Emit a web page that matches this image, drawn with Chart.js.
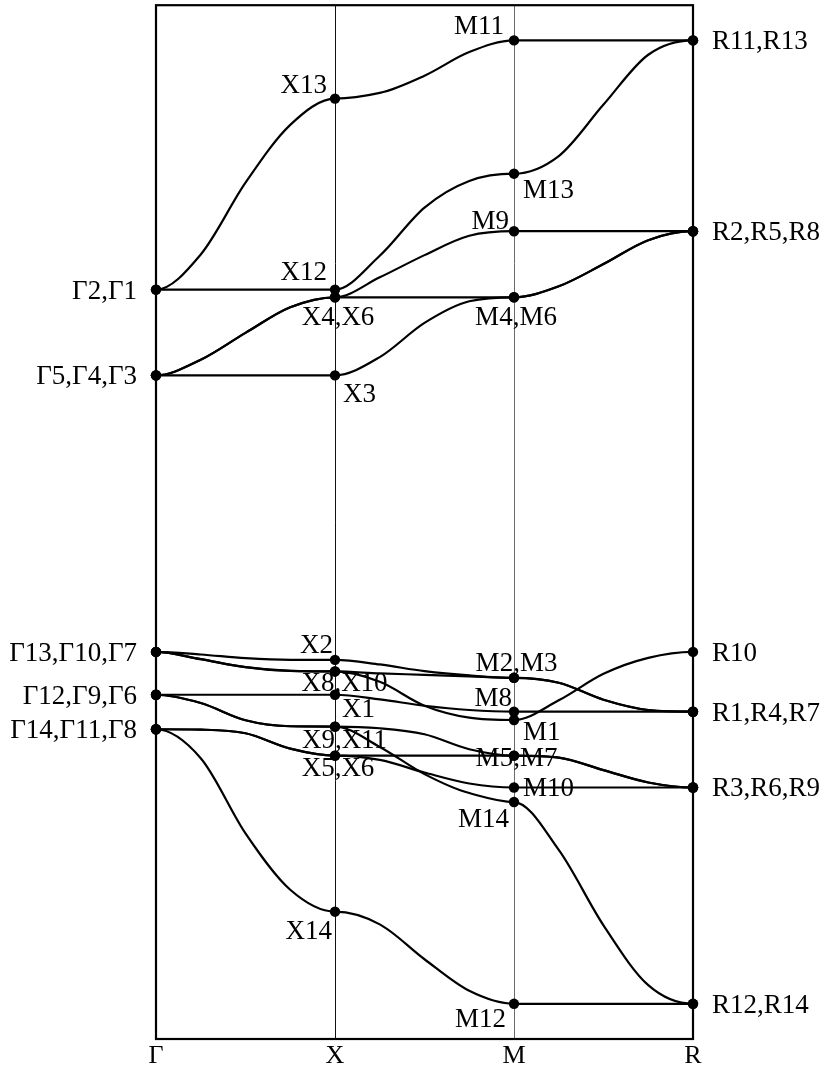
<!DOCTYPE html>
<html>
<head>
<meta charset="utf-8">
<title>Phonon dispersion Γ–X–M–R</title>
<script src="https://cdn.jsdelivr.net/npm/chart.js@4/dist/chart.umd.min.js"></script>
<style>
  html, body { margin: 0; padding: 0; background: #fff; }
  canvas { display: block; }
</style>
</head>
<body>
<canvas id="bands" width="831" height="1071"></canvas>
<script>
// High-symmetry path and the positions along it where energies were sampled
const kPath = ['Γ', 'X', 'M', 'R'];
const kSamples = [0, 0.25, 0.5, 0.75, 1, 1.25, 1.5, 1.75, 2, 2.25, 2.5, 2.75, 3];

// Band energies (arbitrary units) at each sample position
const band1  = [751.7, 787, 859, 917, 943.3, 949, 966.3, 990, 1001.7, 1001.7, 1001.7, 1001.7, 1001.7];
const band2  = [751.7, 751.7, 751.7, 751.7, 751.7, 785.7, 834, 860.7, 868, 885.7, 937.3, 987.3, 1001.7];
const band3  = [665.7, 681.3, 708.3, 734, 744, 764, 786.3, 805.7, 810.3, 810.3, 810.3, 810.3, 810.3];
const band4  = [665.7, 681.3, 708.3, 734, 744, 744, 744, 744, 744, 755, 777.3, 801.3, 810.3];
const band5  = [665.7, 665.7, 665.7, 665.7, 665.7, 684, 718.3, 740, 744, 755, 777.3, 801.3, 810.3];
const band6  = [388.3, 385.7, 382, 380.3, 380.3, 375.7, 369, 364.7, 362.3, 357.3, 340.3, 330, 328.3];
const band7  = [388.3, 381, 373, 369.3, 368.7, 366.7, 365.3, 363.7, 362.3, 357.3, 340.3, 330, 328.3];
const band8  = [388.3, 381, 373, 369.3, 368.7, 358.3, 334.3, 322.3, 320, 339.7, 366.3, 382.3, 388.3];
const band9  = [345.3, 345.3, 345.3, 345.3, 345.3, 340.7, 334.3, 330, 328.3, 328.3, 328.3, 328.3, 328.3];
const band10 = [345.3, 337, 319.7, 313.7, 313.3, 311.7, 305.7, 290.7, 284.3, 282.3, 269.7, 257.3, 252.3];
const band11 = [345.3, 337, 319.7, 313.7, 313.3, 293, 265.7, 246.7, 237.7, 189.7, 114, 54, 35.3];
const band12 = [310.7, 310.3, 306.7, 291.3, 284.3, 284.3, 284.3, 284.3, 284.3, 282.3, 269.7, 257.3, 252.3];
const band13 = [310.7, 310.3, 306.7, 291.3, 284.3, 280, 267.3, 256.3, 252.3, 252.3, 252.3, 252.3, 252.3];
const band14 = [310.7, 281.7, 206.3, 149.7, 127.7, 115, 80, 48.3, 35.3, 35.3, 35.3, 35.3, 35.3];

const bands = [band1, band2, band3, band4, band5, band6, band7,
               band8, band9, band10, band11, band12, band13, band14];

// Irreducible-representation labels: [text, band number, sample index]
const pointLabels = [
  ['Γ2,Γ1', 1, 0], ['Γ5,Γ4,Γ3', 3, 0], ['Γ13,Γ10,Γ7', 6, 0],
  ['Γ12,Γ9,Γ6', 9, 0], ['Γ14,Γ11,Γ8', 12, 0],
  ['X13', 1, 4], ['X12', 2, 4], ['X4,X6', 3, 4], ['X3', 5, 4],
  ['X2', 6, 4], ['X8,X10', 7, 4], ['X1', 9, 4], ['X9,X11', 10, 4],
  ['X5,X6', 12, 4], ['X14', 14, 4],
  ['M11', 1, 8], ['M13', 2, 8], ['M9', 3, 8], ['M4,M6', 4, 8],
  ['M2,M3', 6, 8], ['M8', 9, 8], ['M1', 8, 8], ['M5,M7', 10, 8],
  ['M10', 13, 8], ['M14', 11, 8], ['M12', 14, 8],
  ['R11,R13', 1, 12], ['R2,R5,R8', 3, 12], ['R10', 8, 12],
  ['R1,R4,R7', 6, 12], ['R3,R6,R9', 10, 12], ['R12,R14', 11, 12]
];

// Where each label sits relative to its point: [align, dx, dy] in pixels
const labelPlacement = {
  'X13': ['right', -8, -15], 'X12': ['right', -8, -19],
  'X4,X6': ['center', 3, 19], 'X3': ['left', 8, 18],
  'X2': ['right', -2, -16], 'X8,X10': ['center', 9.5, 11],
  'X1': ['left', 7, 13], 'X9,X11': ['center', 9.5, 12],
  'X5,X6': ['center', 3, 12], 'X14': ['right', -3, 18],
  'M11': ['right', -10, -15], 'M13': ['left', 9, 15],
  'M9': ['right', -5, -11], 'M4,M6': ['center', 2, 19],
  'M2,M3': ['center', 2.5, -16], 'M8': ['right', -2, -15],
  'M1': ['left', 9, 11], 'M5,M7': ['center', 2.5, 2],
  'M10': ['left', 9, 0], 'M14': ['right', -5, 16],
  'M12': ['right', -8, 14]
};
function placementOf(text) {
  if (labelPlacement[text]) return labelPlacement[text];
  return text.startsWith('Γ') ? ['right', -19, 0] : ['left', 19, 0];
}

const serif = '"Liberation Serif", "Times New Roman", serif';
const labelSize = 27;

// Bands meet the high-symmetry points with zero slope
const flatAtNodes = {
  id: 'flatAtNodes',
  beforeDatasetDraw(chart, args) {
    const meta = args.meta;
    meta.dataset.updateControlPoints(chart.chartArea, meta.iAxis);
    meta.data.forEach((pt, i) => {
      if (Number.isInteger(kSamples[i])) {
        pt.cp1y = pt.y;
        pt.cp2y = pt.y;
      }
    });
  }
};

// Box around the plotting area
const frame = {
  id: 'frame',
  beforeDatasetsDraw(chart) {
    const { ctx, chartArea: a } = chart;
    ctx.save();
    ctx.strokeStyle = '#000';
    ctx.lineWidth = 2.2;
    ctx.strokeRect(a.left, a.top, a.right - a.left, a.bottom - a.top);
    ctx.restore();
  }
};

// Representation labels next to the marked points
const nodeLabels = {
  id: 'nodeLabels',
  afterDatasetsDraw(chart) {
    const { ctx, scales: { x, y } } = chart;
    ctx.save();
    ctx.font = `${labelSize}px ${serif}`;
    ctx.fillStyle = '#000';
    ctx.textBaseline = 'alphabetic';
    pointLabels.forEach(([text, b, i]) => {
      const [align, dx, dy] = placementOf(text);
      const px = x.getPixelForValue(kSamples[i]) + dx;
      const py = y.getPixelForValue(bands[b - 1][i]) + dy + labelSize * 0.33;
      ctx.textAlign = align;
      ctx.fillText(text, px, py);
    });
    ctx.restore();
  }
};

new Chart(document.getElementById('bands'), {
  type: 'line',
  data: {
    datasets: bands.map((b, n) => ({
      label: 'band ' + (n + 1),
      data: b.map((e, i) => ({ x: kSamples[i], y: e })),
      borderColor: '#000',
      borderWidth: 2.2,
      cubicInterpolationMode: 'monotone',
      fill: false,
      clip: false,
      pointRadius: c => Number.isInteger(kSamples[c.dataIndex]) ? 5.2 : 0,
      pointHoverRadius: 0,
      pointBackgroundColor: '#000',
      pointBorderWidth: 0
    }))
  },
  options: {
    responsive: false,
    animation: false,
    events: [],
    layout: { padding: { left: 156, right: 138, top: 2, bottom: 0 } },
    plugins: { legend: { display: false }, tooltip: { enabled: false } },
    scales: {
      x: {
        type: 'linear',
        min: 0,
        max: 3,
        afterBuildTicks: s => { s.ticks = kPath.map((_, i) => ({ value: i })); },
        afterFit: s => { s.height = 32; },
        ticks: {
          callback: v => kPath[v],
          font: { family: serif, size: 26 },
          color: '#000',
          padding: 2,
          maxRotation: 0,
          autoSkip: false
        },
        grid: {
          drawTicks: false,
          lineWidth: 1,
          color: c => (c.tick && c.tick.value === 1) ? '#111'
                    : (c.tick && c.tick.value === 2) ? '#6a6a6a' : 'rgba(0,0,0,0)'
        },
        border: { display: false }
      },
      y: {
        type: 'linear',
        min: 0,
        max: 1037,
        display: false
      }
    }
  },
  plugins: [flatAtNodes, frame, nodeLabels]
});
</script>
</body>
</html>
